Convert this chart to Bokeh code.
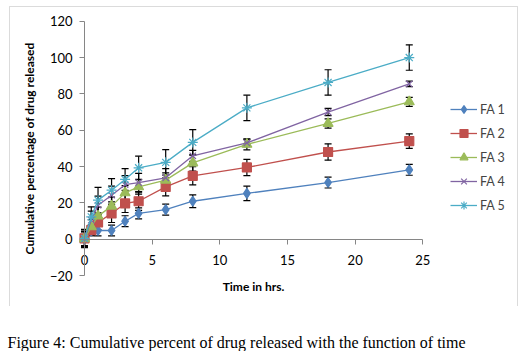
from bokeh.plotting import figure
from bokeh.models import (ColumnDataSource, Whisker, TeeHead, Range1d, Legend, LegendItem,
                          Label, BoxAnnotation, FixedTicker)
from bokeh.embed import file_html
from bokeh.resources import INLINE

time_hrs = [0, 0.5, 1, 2, 3, 4, 6, 8, 12, 18, 24]
series_names = ["FA 1", "FA 2", "FA 3", "FA 4", "FA 5"]
fa1 = [0, 4.4, 4.8, 4.8, 9.9, 14.2, 16.3, 20.9, 25.2, 31.2, 38.2]
fa2 = [0.5, 5.0, 9.2, 14.2, 19.7, 20.9, 28.8, 34.9, 39.5, 48.0, 54.0]
fa3 = [0.3, 6.8, 12.7, 18.2, 25.5, 28.8, 32.5, 42.0, 52.2, 63.7, 75.6]
fa4 = [0.2, 10.5, 18.7, 24.2, 30.0, 31.2, 33.8, 45.9, 53.0, 70.0, 85.5]
fa5 = [0.4, 12.3, 21.5, 27.0, 32.9, 39.3, 42.3, 53.3, 72.3, 86.3, 100.0]
err1 = [4, 2.5, 3, 3, 3, 3, 3, 3.5, 4, 3, 3]
err2 = [4, 3, 4, 5, 5, 5, 5, 5, 4.5, 4.5, 4]
err3 = [4, 4, 5, 5, 4, 4, 4, 4.5, 3, 2.5, 2.5]
err4 = [4, 5, 5, 5, 5, 5, 5, 3, 2, 2, 1.5]
err5 = [5, 5.5, 7, 6.4, 6, 6.4, 7, 7, 7, 7, 7]
y_ticks = [-20, 0, 20, 40, 60, 80, 100, 120]
x_ticks = [0, 5, 10, 15, 20, 25]
caption = "Figure 4: Cumulative percent of drug released with the function of time"

colors = ["#4F81BD", "#C0504D", "#9BBB59", "#8064A2", "#4BACC6"]
markers = ["diamond", "square", "triangle", "x", "asterisk"]
msizes = [10, 9, 10, 9, 10]
values = [fa1, fa2, fa3, fa4, fa5]
errors = [err1, err2, err3, err4, err5]

W, H = 526, 351
# pixel layout of the plot area: x=0 at px 84, x=25 at px 422.3; y=120 at px 20.7, y=-20 at px 275
X0_PX, XPX = 84.0, 13.532
Y0_PX, YPX = 238.7, 1.8164


def dx(px):
    return (px - X0_PX) / XPX


def dy(py):
    return (Y0_PX - py) / YPX


p = figure(width=W, height=H, output_backend="svg", toolbar_location=None,
           x_range=Range1d(dx(0), dx(W)), y_range=Range1d(dy(H), dy(0)),
           min_border_left=0, min_border_right=0, min_border_top=0, min_border_bottom=0)
p.outline_line_color = None
p.grid.visible = False
p.background_fill_color = "white"
p.border_fill_color = "white"

font = "Lato"
for ax in (p.xaxis[0], p.yaxis[0]):
    ax.axis_line_color = "#868686"
    ax.major_tick_line_color = "#868686"
    ax.minor_tick_line_color = None
    ax.major_tick_in = 0
    ax.major_tick_out = 5
    ax.major_label_text_font = font
    ax.major_label_text_font_size = "13px"
    ax.major_label_text_color = "#000000"
    ax.axis_label_text_font = font
    ax.axis_label_text_font_style = "bold"
    ax.axis_label_text_font_size = "12px"
    ax.axis_label_text_color = "#000000"

yax = p.yaxis[0]
xax = p.xaxis[0]
yax.ticker = FixedTicker(ticks=y_ticks)
xax.ticker = FixedTicker(ticks=x_ticks)
yax.bounds = (y_ticks[0], y_ticks[-1])
xax.bounds = (x_ticks[0], x_ticks[-1])
yax.fixed_location = 0
xax.fixed_location = 0
yax.axis_label = "Cumulative percentage of drug released"
yax.major_label_standoff = 7
yax.axis_label_standoff = 10
xax.axis_label = "Time in hrs."
xax.major_label_standoff = 11
xax.axis_label_standoff = 10

items = []
for name, col, mk, ms, ys, es in zip(series_names, colors, markers, msizes, values, errors):
    src = ColumnDataSource(dict(x=time_hrs, y=ys,
                                upper=[v + e for v, e in zip(ys, es)],
                                lower=[v - e for v, e in zip(ys, es)]))
    w = Whisker(source=src, base="x", upper="upper", lower="lower", dimension="height",
                line_color="black", line_width=1.2,
                upper_head=TeeHead(size=7, line_color="black", line_width=1.2),
                lower_head=TeeHead(size=7, line_color="black", line_width=1.2))
    p.add_layout(w)
    r1 = p.line("x", "y", source=src, line_color=col, line_width=1.3)
    r2 = p.scatter("x", "y", source=src, marker=mk, size=ms, fill_color=col,
                   line_color=col, line_width=1.2)
    items.append(LegendItem(label=name, renderers=[r1, r2]))

legend = Legend(items=items, location=(450, 136), padding=0, margin=0, spacing=4,
                glyph_width=27, glyph_height=20, label_height=20, label_text_font=font,
                label_text_font_size="12.5px", label_standoff=3,
                border_line_color=None, background_fill_alpha=0)
p.add_layout(legend, "center")

# chart-area border (left, top, right edges)
box = BoxAnnotation(left=dx(9), right=dx(517), top=dy(6), bottom=dy(307),
                    fill_alpha=0, line_color="#898989", line_width=1)
p.add_layout(box)
mask = BoxAnnotation(left=dx(8), right=dx(519), top=dy(305.5), bottom=dy(309),
                     fill_color="white", fill_alpha=1, line_color=None)
p.add_layout(mask)

cap = Label(x=dx(7), y=dy(342), text=caption,
            text_font="Liberation Serif", text_font_size="16px", text_baseline="alphabetic",
            text_color="black")
p.add_layout(cap)

open("out.html", "w").write(file_html(p, INLINE))
